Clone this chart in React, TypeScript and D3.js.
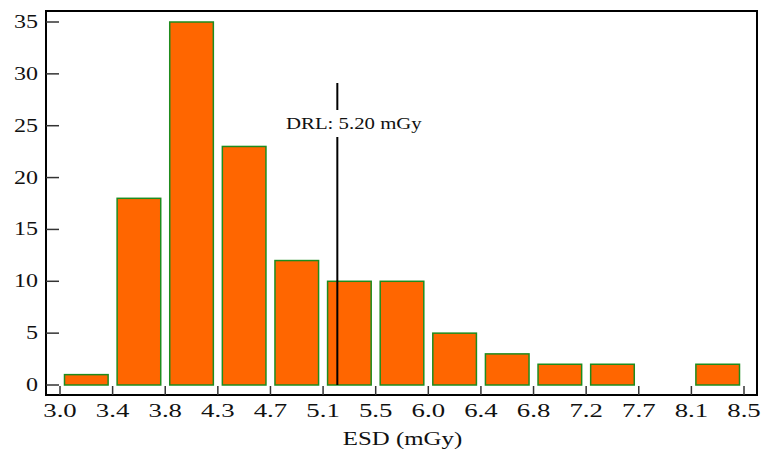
import React, { useEffect, useRef } from "react";
import * as d3 from "d3";

// bin edges (as printed on the axis) and counts per bin
const binEdges = [3.0, 3.4, 3.8, 4.3, 4.7, 5.1, 5.5, 6.0, 6.4, 6.8, 7.2, 7.7, 8.1, 8.5];
const counts = [1, 18, 35, 23, 12, 10, 10, 5, 3, 2, 2, 0, 2];
const yTicks = [0, 5, 10, 15, 20, 25, 30, 35];
const drlPosition = 5.23;
const drlLabel = "DRL: 5.20 mGy";

const App = () => {
  const chartRef = useRef<SVGSVGElement>(null);

  useEffect(() => {
    const svg = d3.select(chartRef.current);
    svg.selectAll("*").remove();

    const font = "'Liberation Serif', 'Times New Roman', serif";
    const left = 46, right = 757, top = 11, bottom = 395;

    // edges are evenly spaced on the page, so map by index
    const xIdx = d3.scaleLinear().domain([0, binEdges.length - 1]).range([60, 744]);
    const xVal = d3.scaleLinear().domain([binEdges[0], binEdges[binEdges.length - 1]]).range([60, 744]);
    const y = d3.scaleLinear().domain([0, 35]).range([385, 22]);

    // bars (empty bins are skipped)
    svg.append("g")
      .selectAll("rect")
      .data(counts.map((c, i) => ({ c, i })).filter(d => d.c > 0))
      .enter()
      .append("rect")
      .attr("x", d => xIdx(d.i) + 4.5)
      .attr("y", d => y(d.c))
      .attr("width", d => xIdx(d.i + 1) - xIdx(d.i) - 9)
      .attr("height", d => y(0) - y(d.c))
      .attr("fill", "#ff6600")
      .attr("stroke", "#1e8c1e")
      .attr("stroke-width", 1.5);

    // frame
    svg.append("path")
      .attr("d", `M${left},${top}H${right}V${bottom}H${left}Z`)
      .attr("fill", "none")
      .attr("stroke", "#000")
      .attr("stroke-width", 2);

    // y ticks
    const yg = svg.append("g");
    yTicks.forEach(t => {
      yg.append("line")
        .attr("x1", left).attr("x2", left + 13)
        .attr("y1", y(t)).attr("y2", y(t))
        .attr("stroke", "#333").attr("stroke-width", 1.5);
      yg.append("text")
        .attr("transform", `translate(38,${y(t) + 6}) scale(1.3,1)`)
        .attr("text-anchor", "end")
        .attr("font-family", font)
        .attr("font-size", 18.5)
        .attr("fill", "#111")
        .text(t);
    });

    // x ticks
    const xg = svg.append("g");
    binEdges.forEach((e, i) => {
      xg.append("line")
        .attr("x1", xIdx(i)).attr("x2", xIdx(i))
        .attr("y1", bottom - 9).attr("y2", bottom)
        .attr("stroke", "#333").attr("stroke-width", 1.5);
      xg.append("text")
        .attr("transform", `translate(${xIdx(i)},${bottom + 22}) scale(1.45,1)`)
        .attr("text-anchor", "middle")
        .attr("font-family", font)
        .attr("font-size", 18.5)
        .attr("fill", "#111")
        .text(e.toFixed(1));
    });

    // axis title
    svg.append("text")
      .attr("transform", `translate(${(left + right) / 2 + 1},445) scale(1.38,1)`)
      .attr("text-anchor", "middle")
      .attr("font-family", font)
      .attr("font-size", 18)
      .attr("fill", "#111")
      .text("ESD (mGy)");

    // DRL marker
    const dx = xVal(drlPosition);
    svg.append("line")
      .attr("x1", dx).attr("x2", dx)
      .attr("y1", 83).attr("y2", y(0))
      .attr("stroke", "#000")
      .attr("stroke-width", 2);
    svg.append("rect")
      .attr("x", 284).attr("y", 110)
      .attr("width", 142).attr("height", 27)
      .attr("fill", "#fff");
    svg.append("text")
      .attr("transform", `translate(286,129) scale(1.3,1)`)
      .attr("font-family", font)
      .attr("font-size", 16)
      .attr("fill", "#111")
      .text(drlLabel);
  }, []);

  return (
    <svg ref={chartRef} width={763} height={452}
      style={{ position: "absolute", left: 0, top: 0, background: "#fff" }} />
  );
};

export default App;
